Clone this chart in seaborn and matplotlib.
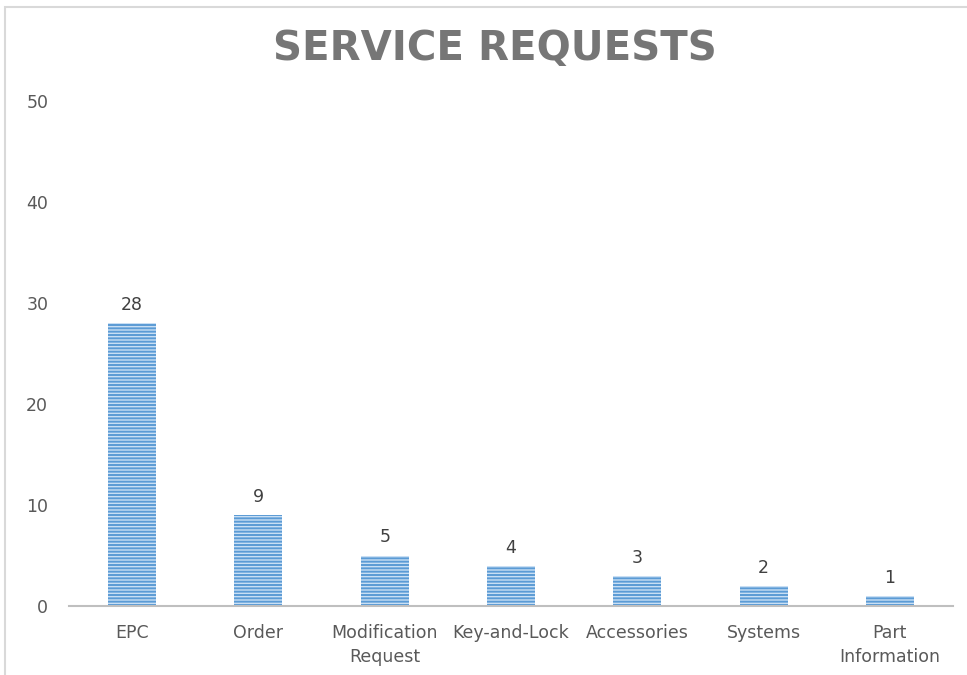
import matplotlib
matplotlib.use('agg')
import matplotlib.pyplot as plt
from matplotlib.patches import Rectangle
import seaborn as sns
import pandas as pd

categories = ['EPC', 'Order', 'Modification\nRequest', 'Key-and-Lock',
              'Accessories', 'Systems', 'Part\nInformation']
counts = [28, 9, 5, 4, 3, 2, 1]
y_ticks = [0, 10, 20, 30, 40, 50]

df = pd.DataFrame({'Category': categories, 'Requests': counts})

sns.set_style('white')
plt.rcParams['font.family'] = ['DejaVu Sans']
plt.rcParams['hatch.linewidth'] = 1.4
plt.rcParams['hatch.color'] = '#5B9BD5'

fig = plt.figure(figsize=(9.67, 6.75), dpi=100)
ax = fig.add_axes([0.0714, 0.1022, 0.9141, 0.7482])

ax = sns.barplot(data=df, x='Category', y='Requests', color='#C9DFF4',
                 width=0.38, ax=ax, saturation=1)
for bar in ax.patches:
    bar.set_hatch('-----')
    bar.set_edgecolor('#5B9BD5')
    bar.set_linewidth(0)

for i, v in enumerate(counts):
    ax.text(i, v + 0.9, str(v), ha='center', va='bottom',
            fontsize=12.5, color='#404040')

ax.set_ylim(0, 50)
ax.set_xlim(-0.5, len(categories) - 0.5)
ax.set_yticks(y_ticks)
ax.tick_params(axis='both', length=0, labelsize=12.5, labelcolor='#595959')
ax.tick_params(axis='y', pad=15)
ax.tick_params(axis='x', pad=13)
for lab in ax.get_xticklabels():
    lab.set_linespacing(1.4)
ax.set_xlabel('')
ax.set_ylabel('')
sns.despine(ax=ax, left=True)
ax.spines['bottom'].set_color('#BFBFBF')
ax.spines['bottom'].set_linewidth(1.5)

fig.text(0.512, 0.928, 'SERVICE REQUESTS', ha='center', va='center',
         fontsize=29, fontweight='bold', color='#767676')

# chart border
fig.patches.append(Rectangle((0.005, -0.1), 1.2, 1.09, transform=fig.transFigure,
                             fill=False, edgecolor='#D9D9D9', linewidth=1.5))

fig.savefig('out.png', dpi=100)
plt.close(fig)
